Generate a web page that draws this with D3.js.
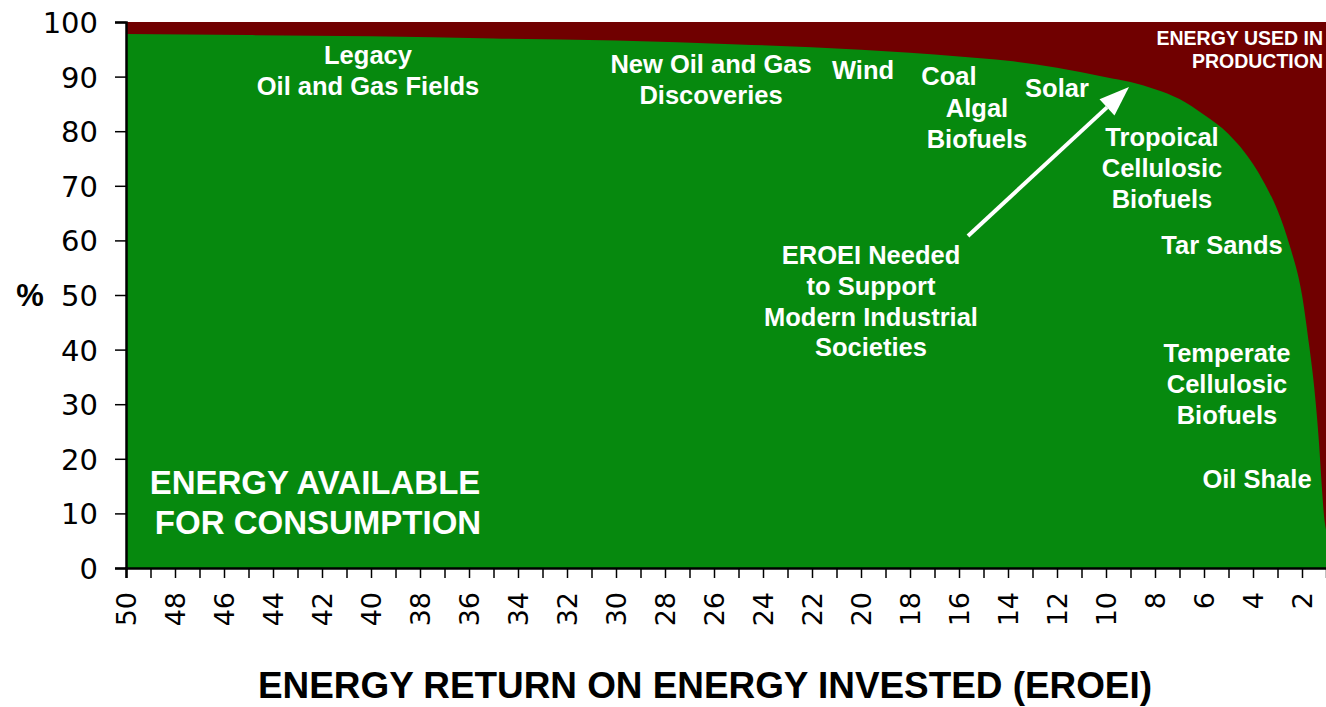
<!DOCTYPE html>
<html>
<head>
<meta charset="utf-8">
<script src="https://cdn.jsdelivr.net/npm/d3@7"></script>
<style>
  html, body { margin: 0; padding: 0; background: #ffffff; }
  svg { display: block; }
</style>
</head>
<body>
<svg id="chart" width="1326" height="707"></svg>
<script>
// ---- data ----
const eroei = [50, 45, 40, 35, 30, 25, 20, 16, 14, 12, 10, 9, 8, 7, 6, 5, 4, 3.5, 3, 2.5, 2, 1.7, 1.5, 1.3, 1.2, 1.1, 1.02];
const availablePct = [97.8, 97.6, 97.4, 97.0, 96.6, 95.9, 94.9, 93.7, 92.9, 91.6, 89.9, 89.0, 87.7, 85.9, 83.0, 79.5, 74.0, 70.2, 65.5, 59.0, 50.0, 40.5, 33.0, 22.5, 15.5, 9.5, 7.0];
const xTickValues = d3.range(50, 0, -1);
const xTickLabels = d3.range(50, 1, -2);
const yTickValues = [0, 10, 20, 30, 40, 50, 60, 70, 80, 90, 100];

const annotations = [
  { lines: ["Legacy", "Oil and Gas Fields"], x: 368, y: 64 },
  { lines: ["New Oil and Gas", "Discoveries"], x: 711, y: 73 },
  { lines: ["Wind"], x: 863, y: 79 },
  { lines: ["Coal"], x: 949, y: 85 },
  { lines: ["Algal", "Biofuels"], x: 977, y: 117 },
  { lines: ["Solar"], x: 1057, y: 97 },
  { lines: ["Tropoical", "Cellulosic", "Biofuels"], x: 1162, y: 146 },
  { lines: ["Tar Sands"], x: 1222, y: 254 },
  { lines: ["EROEI Needed", "to Support", "Modern Industrial", "Societies"], x: 871, y: 264 },
  { lines: ["Temperate", "Cellulosic", "Biofuels"], x: 1227, y: 362 },
  { lines: ["Oil Shale"], x: 1257, y: 488 }
];

// ---- layout ----
const svg = d3.select("#chart");
const mLeft = 126, mRight = 1326.5, mTop = 22, mBottom = 568;

const x = d3.scaleLinear().domain([50, 1]).range([mLeft, mRight]);
const y = d3.scaleLinear().domain([0, 100]).range([mBottom, mTop]);

const GREEN = "#06890e";
const RED = "#700000";

// energy used in production (background band 0..100)
svg.append("rect")
  .attr("x", x(50)).attr("y", y(100))
  .attr("width", 1326 - x(50)).attr("height", y(0) - y(100))
  .attr("fill", RED);

// energy available area
const data = eroei.map((e, i) => ({ e, v: availablePct[i] }));
const area = d3.area()
  .x(d => x(d.e))
  .y0(y(0))
  .y1(d => y(d.v))
  .curve(d3.curveMonotoneX);
svg.append("path").datum(data).attr("d", area).attr("fill", GREEN);

// ---- axes ----
const yAxis = d3.axisLeft(y).tickValues(yTickValues).tickSize(11).tickPadding(17);
const gy = svg.append("g").attr("transform", `translate(${mLeft},0)`).call(yAxis);
gy.select(".domain").attr("stroke", "#000").attr("stroke-width", 2.5);
gy.selectAll(".tick line").attr("stroke", "#000").attr("stroke-width", 1.5);
gy.selectAll(".tick text")
  .attr("font-family", "'DejaVu Sans', Verdana, sans-serif")
  .attr("font-size", 29).attr("fill", "#000")
  .attr("dy", "0.36em");

const xAxis = d3.axisBottom(x).tickValues(xTickValues).tickSize(10)
  .tickFormat(d => (xTickLabels.includes(d) ? d : ""));
const gx = svg.append("g").attr("transform", `translate(0,${mBottom})`).call(xAxis);
gx.select(".domain").attr("stroke", "#000").attr("stroke-width", 2.5);
gx.selectAll(".tick line").attr("stroke", "#000").attr("stroke-width", 1.5);
gx.selectAll(".tick text")
  .attr("font-family", "'DejaVu Sans', Verdana, sans-serif")
  .attr("font-size", 27).attr("fill", "#000")
  .attr("transform", "rotate(-90)")
  .attr("text-anchor", "end")
  .attr("x", -24).attr("y", 0).attr("dy", "0.36em");

// axis titles
svg.append("text")
  .attr("x", 258).attr("y", 698)
  .attr("font-family", "'Liberation Sans', Arial, sans-serif")
  .attr("font-weight", "bold").attr("font-size", 37)
  .attr("textLength", 894).attr("lengthAdjust", "spacingAndGlyphs")
  .attr("fill", "#000")
  .text("ENERGY RETURN ON ENERGY INVESTED (EROEI)");

svg.append("text")
  .attr("x", 30).attr("y", 306)
  .attr("text-anchor", "middle")
  .attr("font-family", "'Liberation Sans', Arial, sans-serif")
  .attr("font-weight", "bold").attr("font-size", 31)
  .attr("fill", "#000").text("%");

// ---- annotations ----
const annFont = "'Liberation Sans', Arial, sans-serif";
annotations.forEach(a => {
  const t = svg.append("text")
    .attr("text-anchor", "middle")
    .attr("font-family", annFont).attr("font-weight", "bold")
    .attr("font-size", 25.5).attr("fill", "#fff");
  a.lines.forEach((l, i) => {
    t.append("tspan").attr("x", a.x).attr("y", a.y + i * 30.8).text(l);
  });
});

// big label
const big = svg.append("text")
  .attr("text-anchor", "middle")
  .attr("font-family", annFont).attr("font-weight", "bold")
  .attr("font-size", 33).attr("fill", "#fff");
big.append("tspan").attr("x", 315).attr("y", 494).text("ENERGY AVAILABLE");
big.append("tspan").attr("x", 318).attr("y", 534).text("FOR CONSUMPTION");

// energy used label (kept just inside the right edge)
const used = svg.append("text")
  .attr("font-family", annFont).attr("font-weight", "bold")
  .attr("font-size", 19.5).attr("fill", "#fff")
  .attr("text-anchor", "end");
used.append("tspan").attr("x", 1323).attr("y", 45).text("ENERGY USED IN");
used.append("tspan").attr("x", 1323).attr("y", 68).text("PRODUCTION");

// arrow
const ax0 = 968, ay0 = 236, ax1 = 1129, ay1 = 87;
const ang = Math.atan2(ay1 - ay0, ax1 - ax0);
const headLen = 30, headHalf = 11;
const bx = ax1 - headLen * Math.cos(ang), by = ay1 - headLen * Math.sin(ang);
svg.append("line")
  .attr("x1", ax0).attr("y1", ay0).attr("x2", bx).attr("y2", by)
  .attr("stroke", "#fff").attr("stroke-width", 4);
svg.append("path")
  .attr("d", `M${ax1},${ay1} L${bx + headHalf * Math.sin(ang)},${by - headHalf * Math.cos(ang)} L${bx - headHalf * Math.sin(ang)},${by + headHalf * Math.cos(ang)} Z`)
  .attr("fill", "#fff");
</script>
</body>
</html>
